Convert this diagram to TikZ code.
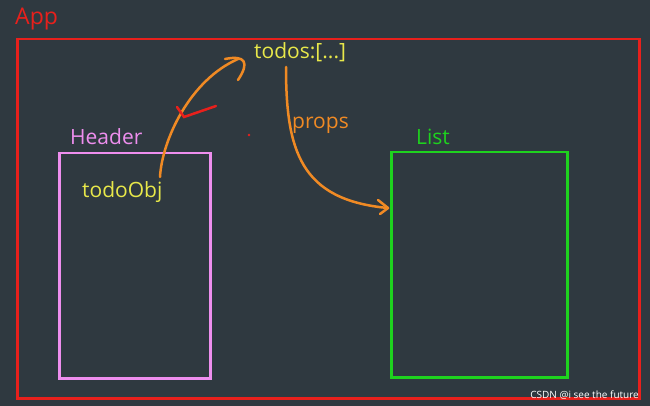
\documentclass[tikz,border=0pt]{standalone}
\usepackage{fontspec}
\setmainfont{Open Sans}
\usetikzlibrary{arrows.meta}
\definecolor{bg}{HTML}{2F3940}
\definecolor{appred}{HTML}{E8201C}
\definecolor{hpink}{HTML}{EE8EEE}
\definecolor{lgreen}{HTML}{1ED21E}
\definecolor{ylw}{HTML}{E8E84A}
\definecolor{orng}{HTML}{F08A24}
\begin{document}
\begin{tikzpicture}[x=1pt,y=-1pt,
  box/.style={draw,line width=2.5pt},
  lbl/.style={font=\fontsize{21}{23}\selectfont,inner sep=0pt,anchor=west},
  curve/.style={draw=orng,line width=2.5pt,line cap=round,line join=round}]
\fill[bg] (0,0) rectangle (650,406);
\useasboundingbox (0,0) rectangle (650,406);
\node[box,draw=appred,minimum width=622pt,minimum height=359pt,anchor=north west] (app) at (16,38) {};
\node[lbl,text=appred,font=\fontsize{23}{25}\selectfont] (applbl) at (15,19) {App};
\node[box,draw=hpink,minimum width=151pt,minimum height=225pt,anchor=north west] (header) at (58,152) {};
\node[lbl,text=hpink] (hlbl) at (70,137) {Header};
\node[box,draw=lgreen,minimum width=176pt,minimum height=225pt,anchor=north west] (list) at (390,151) {};
\node[lbl,text=lgreen] (llbl) at (416,137) {List};
\node[lbl,text=ylw] (todos) at (254,52) {todos:[...]};
\node[lbl,text=ylw] (obj) at (82,192) {todoObj};
\node[lbl,text=orng] (props) at (292,125) {props};
\coordinate (c1s) at (160,177);
\coordinate (c1e) at (238,59);
\coordinate (c2s) at (286,67);
\coordinate (c2e) at (388,208);
\draw[curve] (c1s) .. controls (162,140) and (190,80) .. (c1e);
\draw[curve] (225,59) .. controls (245,55) and (250,62) .. (238,80);
\draw[curve] (c2s) .. controls (286,150) and (300,200) .. (c2e);
\draw[curve] (378,200) -- (c2e) -- (380,214);
\draw[draw=appred,line width=2.5pt,line cap=round] (177,107) -- (184,117) -- (216,106);
\fill[appred] (249,135) circle (1.3pt);
\node[text=white,font=\fontsize{10}{11}\selectfont,anchor=south east,inner sep=1pt] (wm) at (640,401) {CSDN @i see the future};
\end{tikzpicture}
\end{document}
